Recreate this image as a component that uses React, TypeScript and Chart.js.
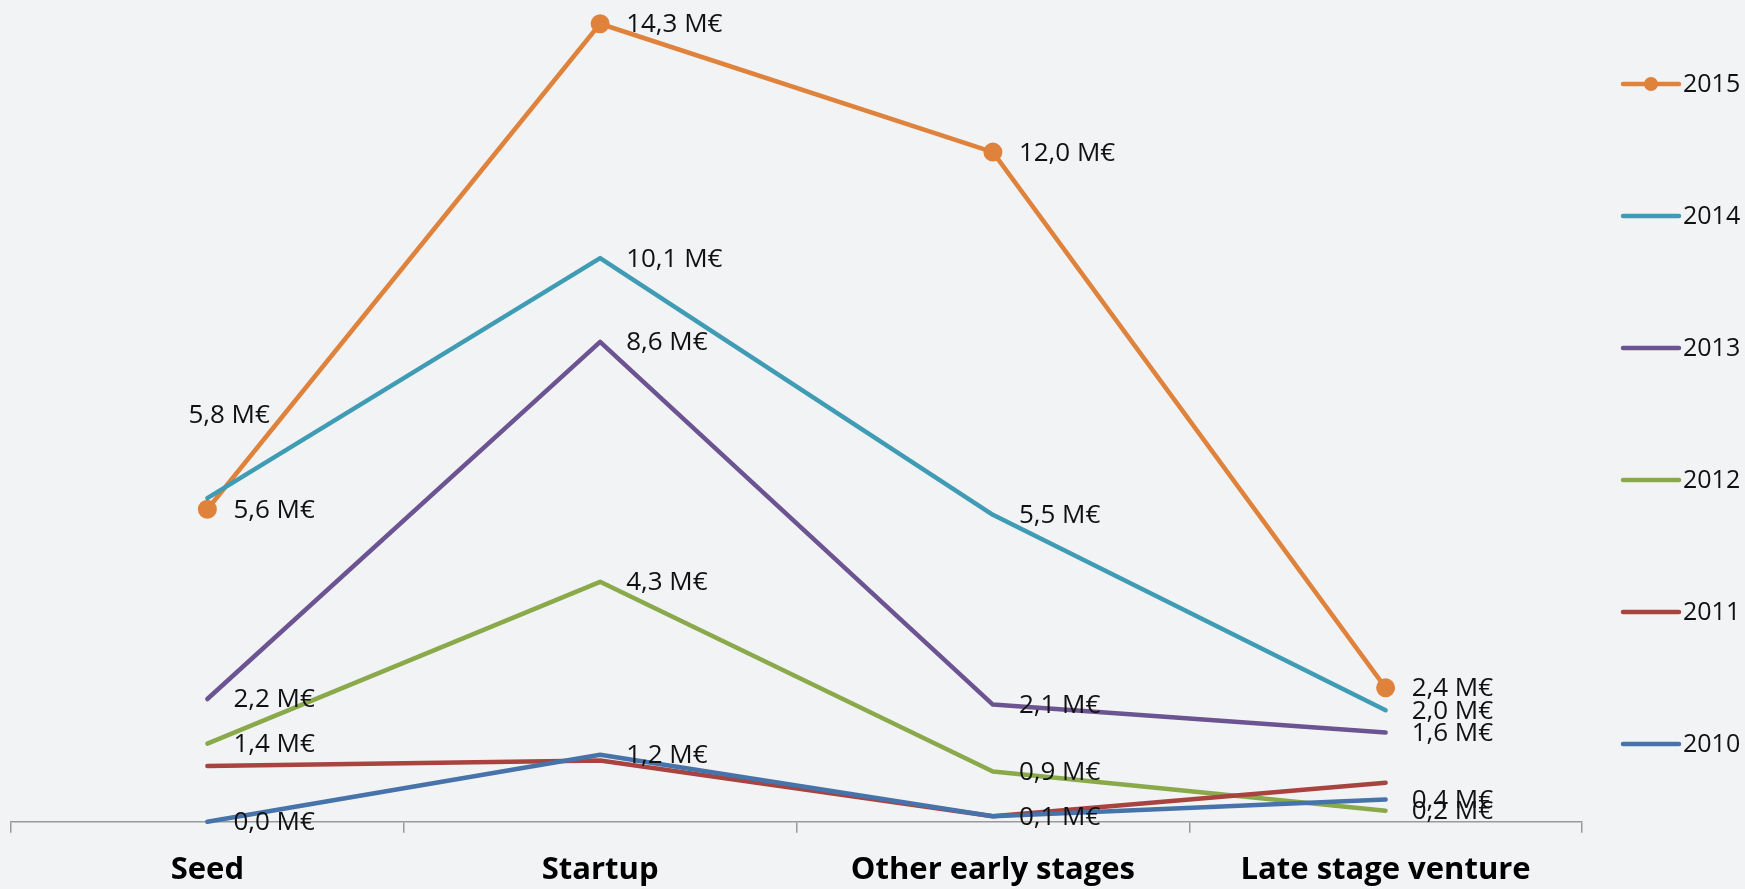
import React, { useEffect, useRef } from "react";
import { Chart, registerables } from "chart.js";

Chart.register(...registerables);

const categories = ["Seed", "Startup", "Other early stages", "Late stage venture"];
const seriesNames = ["2015", "2014", "2013", "2012", "2011", "2010"];
const values2015 = [5.6, 14.3, 12.0, 2.4];
const values2014 = [5.8, 10.1, 5.5, 2.0];
const values2013 = [2.2, 8.6, 2.1, 1.6];
const values2012 = [1.4, 4.3, 0.9, 0.2];
const values2011 = [1.0, 1.1, 0.1, 0.7];
const values2010 = [0.0, 1.2, 0.1, 0.4];
const seriesValues = [values2015, values2014, values2013, values2012, values2011, values2010];
const seriesColors = ["#DF823B", "#3F9CB4", "#6B5491", "#8AA94B", "#A9433F", "#4673AA"];
const seriesHasMarkers = [true, false, false, false, false, false];
const seriesHasLabels = [true, true, true, true, false, true];
const yMin = 0;
const yMax = 14.6;

const FONT = "'Open Sans', 'DejaVu Sans', sans-serif";
const BG = "#F2F3F5";

// manually moved data label (series index, point index) -> offset from point
const labelOverrides: Record<string, { dx: number; dy: number }> = {
  "1-0": { dx: -19, dy: -83 },
};

const fmt = (v: number) => v.toFixed(1).replace(".", ",") + " M€";

const bgPlugin = {
  id: "bgFill",
  beforeDraw(chart: any) {
    const { ctx, width, height } = chart;
    ctx.save();
    ctx.fillStyle = BG;
    ctx.fillRect(0, 0, width, height);
    ctx.restore();
  },
};

const labelPlugin = {
  id: "valueLabels",
  afterDatasetsDraw(chart: any) {
    const ctx = chart.ctx;
    ctx.save();
    ctx.font = `26px ${FONT}`;
    ctx.fillStyle = "#111";
    ctx.textBaseline = "middle";
    ctx.textAlign = "left";
    chart.data.datasets.forEach((ds: any, i: number) => {
      if (!seriesHasLabels[i]) return;
      const meta = chart.getDatasetMeta(i);
      meta.data.forEach((pt: any, j: number) => {
        const o = labelOverrides[`${i}-${j}`] || { dx: 26, dy: 1 };
        ctx.fillText(fmt(ds.data[j]), pt.x + o.dx, pt.y + o.dy);
      });
    });
    ctx.restore();
  },
};

const legendPlugin = {
  id: "sideLegend",
  afterDraw(chart: any) {
    const ctx = chart.ctx;
    ctx.save();
    const x0 = 1623;
    const x1 = 1679;
    const top = 84;
    const step = 132;
    seriesNames.forEach((name, i) => {
      const y = top + i * step;
      ctx.strokeStyle = seriesColors[i];
      ctx.lineWidth = 4.5;
      ctx.lineCap = "round";
      ctx.beginPath();
      ctx.moveTo(x0, y);
      ctx.lineTo(x1, y);
      ctx.stroke();
      if (seriesHasMarkers[i]) {
        ctx.fillStyle = seriesColors[i];
        ctx.beginPath();
        ctx.arc((x0 + x1) / 2, y, 7, 0, Math.PI * 2);
        ctx.fill();
      }
      ctx.fillStyle = "#111";
      ctx.font = `25px ${FONT}`;
      ctx.textBaseline = "middle";
      ctx.textAlign = "left";
      ctx.fillText(name, x1 + 4, y + 1);
    });
    ctx.restore();
  },
};

export default function App() {
  const ref = useRef<HTMLCanvasElement | null>(null);

  useEffect(() => {
    if (!ref.current) return;
    const chart = new Chart(ref.current, {
      type: "line",
      data: {
        labels: categories,
        datasets: seriesNames.map((name, i) => ({
          label: name,
          data: seriesValues[i],
          borderColor: seriesColors[i],
          backgroundColor: seriesColors[i],
          borderWidth: 4.5,
          borderCapStyle: "round",
          borderJoinStyle: "round",
          pointRadius: seriesHasMarkers[i] ? 9.5 : 0,
          pointHoverRadius: seriesHasMarkers[i] ? 9.5 : 0,
          pointBorderWidth: 0,
          pointBackgroundColor: seriesColors[i],
          tension: 0,
          fill: false,
          clip: false,
          order: seriesNames.length - 1 - i,
        })),
      },
      options: {
        animation: false,
        responsive: false,
        devicePixelRatio: 1,
        layout: {
          autoPadding: false,
          padding: { left: 11, right: 163, top: 7, bottom: -18 },
        },
        plugins: {
          legend: { display: false },
          tooltip: { enabled: false },
        },
        scales: {
          x: {
            offset: true,
            grid: {
              offset: true,
              drawOnChartArea: false,
              drawTicks: true,
              tickLength: 11,
              color: "#9A9A9A",
              lineWidth: 1.5,
            },
            border: { display: true, color: "#9A9A9A", width: 1.5 },
            ticks: {
              font: { family: FONT, size: 31, weight: "bold" },
              color: "#000",
              padding: 18.5,
              maxRotation: 0,
              autoSkip: false,
            },
          },
          y: {
            display: false,
            min: yMin,
            max: yMax,
          },
        },
      },
      plugins: [bgPlugin, labelPlugin, legendPlugin],
    });
    return () => chart.destroy();
  }, []);

  return (
    <div style={{ position: "fixed", left: 0, top: 0, width: 1745, height: 889, background: BG }}>
      <canvas ref={ref} width={1745} height={889} style={{ width: 1745, height: 889, display: "block" }} />
    </div>
  );
}
